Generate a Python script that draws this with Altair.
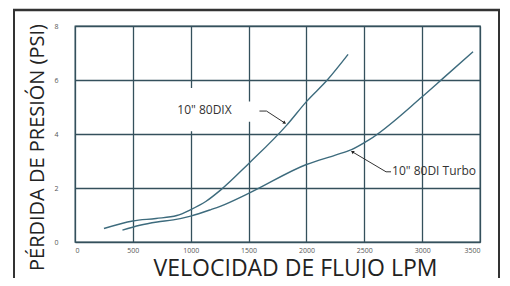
import altair as alt
import pandas as pd

# Series
dix_x = [250, 500, 700, 880, 1000, 1130, 1260, 1500, 1830, 2000, 2180, 2360]
dix_y = [0.5, 0.78, 0.87, 0.98, 1.2, 1.5, 1.93, 2.9, 4.33, 5.2, 6.0, 6.95]
turbo_x = [410, 560, 710, 850, 1000, 1175, 1260, 1500, 2000, 2250, 2390, 2540, 3000, 3180, 3440]
turbo_y = [0.44, 0.62, 0.74, 0.82, 0.96, 1.2, 1.33, 1.8, 2.87, 3.22, 3.42, 3.78, 5.38, 6.06, 7.05]

x_ticks = [0, 500, 1000, 1500, 2000, 2500, 3000, 3500]
y_ticks = [0, 2, 4, 6, 8]

labels = ['10" 80DIX', '10" 80DI Turbo']
label_x = [1119, 2740]
label_y = [4.89, 2.62]
label_align = ["center", "left"]

# leader lines (data space)
arrow_dix_x = [1594, 1655, 1812]
arrow_dix_y = [4.85, 4.85, 4.41]
arrow_turbo_x = [2731, 2688, 2397]
arrow_turbo_y = [2.60, 2.60, 3.34]

# white patch behind label
patch_x = [900, 740]
patch_x2 = [1100, 1590]
patch_y = [4.1, 4.45]
patch_y2 = [5.7, 5.2]

GRID = "#34505c"
LINE = "#3d6b7d"

curves = pd.DataFrame({
    "x": dix_x + turbo_x,
    "y": dix_y + turbo_y,
    "s": ["dix"] * len(dix_x) + ["turbo"] * len(turbo_x),
})
arrows = pd.DataFrame({
    "x": arrow_dix_x + arrow_turbo_x,
    "y": arrow_dix_y + arrow_turbo_y,
    "s": ["dix"] * 3 + ["turbo"] * 3,
    "o": [0, 1, 2, 0, 1, 2],
})
heads = pd.DataFrame({"x": [arrow_dix_x[-1], arrow_turbo_x[-1]],
                      "y": [arrow_dix_y[-1], arrow_turbo_y[-1]],
                      "a": [124, 301]})
lab = pd.DataFrame({"t": labels, "x": label_x, "y": label_y, "al": label_align})
patch = pd.DataFrame({"x": patch_x, "x2": patch_x2, "y": patch_y, "y2": patch_y2})

xs = alt.Scale(domain=[0, 3500], nice=False)
ys = alt.Scale(domain=[0, 8], nice=False)

xaxis = alt.Axis(values=x_ticks, grid=True, ticks=False, domain=False, format="d",
                 labelFontSize=7, labelColor="#555", labelPadding=4,
                 labelFont="Open Sans", gridColor=GRID, gridWidth=1.3,
                 title="VELOCIDAD DE FLUJO LPM", titleFont="Open Sans",
                 titleFontSize=23, titleFontWeight="normal", titleColor="#222",
                 titleX=220, titleY=33, titleBaseline="alphabetic")
yaxis = alt.Axis(values=y_ticks, grid=True, ticks=False, domain=False,
                 labelFontSize=7, labelColor="#555", labelPadding=17,
                 labelFont="Open Sans", gridColor=GRID, gridWidth=1.3,
                 title="PÉRDIDA DE PRESIÓN (PSI)", titleFont="Open Sans",
                 titleFontSize=20, titleFontWeight="normal", titleColor="#222",
                 titleX=-32, titleY=121, titleBaseline="alphabetic",
                 titleAngle=270, titleAlign="center")

base = alt.Chart(curves).encode(
    x=alt.X("x:Q", scale=xs, axis=xaxis),
    y=alt.Y("y:Q", scale=ys, axis=yaxis),
)

patch_layer = alt.Chart(patch).mark_rect(color="white").encode(
    x=alt.X("x:Q", scale=xs), x2="x2:Q", y=alt.Y("y:Q", scale=ys), y2="y2:Q")

lines = base.mark_line(color=LINE, strokeWidth=1.4, interpolate="monotone").encode(
    detail="s:N")

arrow_lines = alt.Chart(arrows).mark_line(color="#333", strokeWidth=1).encode(
    x=alt.X("x:Q", scale=xs), y=alt.Y("y:Q", scale=ys), detail="s:N", order="o:Q")

head_layer = alt.Chart(heads).mark_point(shape="triangle-up", filled=True,
                                         color="#222", size=14, opacity=1).encode(
    x=alt.X("x:Q", scale=xs), y=alt.Y("y:Q", scale=ys), angle=alt.Angle("a:Q", scale=None))

text_center = alt.Chart(lab[lab.al == "center"]).mark_text(
    align="center", baseline="middle", font="Open Sans", fontSize=12, color="#333").encode(
    x=alt.X("x:Q", scale=xs), y=alt.Y("y:Q", scale=ys), text="t:N")
text_left = alt.Chart(lab[lab.al == "left"]).mark_text(
    align="left", baseline="middle", font="Open Sans", fontSize=12, color="#333").encode(
    x=alt.X("x:Q", scale=xs), y=alt.Y("y:Q", scale=ys), text="t:N")

frame_df = pd.DataFrame({"k": [0]})
frame_bar = alt.Chart(frame_df).mark_rect(color="#333", clip=False)
frame_left = frame_bar.encode(x=alt.value(-62), x2=alt.value(-60), y=alt.value(-17), y2=alt.value(260))
frame_right = frame_bar.encode(x=alt.value(423), x2=alt.value(425), y=alt.value(-17), y2=alt.value(260))
frame_top = alt.Chart(frame_df).mark_rule(color="#333", strokeWidth=2.4, clip=False,
                                          yOffset=-16).encode(
    x=alt.value(-62), x2=alt.value(425), y=alt.YDatum(8, scale=ys))

chart = alt.layer(patch_layer, lines, arrow_lines, head_layer, text_center, text_left,
                  frame_left, frame_right, frame_top).properties(
    width=405, height=216,
    autosize=alt.AutoSizeParams(type="none"),
    padding={"left": 67, "top": 18, "right": 22, "bottom": 36},
    background="white",
).configure_view(stroke=GRID, strokeWidth=1.3)

chart.save("out.html", embed_options={"renderer": "svg", "actions": False})
